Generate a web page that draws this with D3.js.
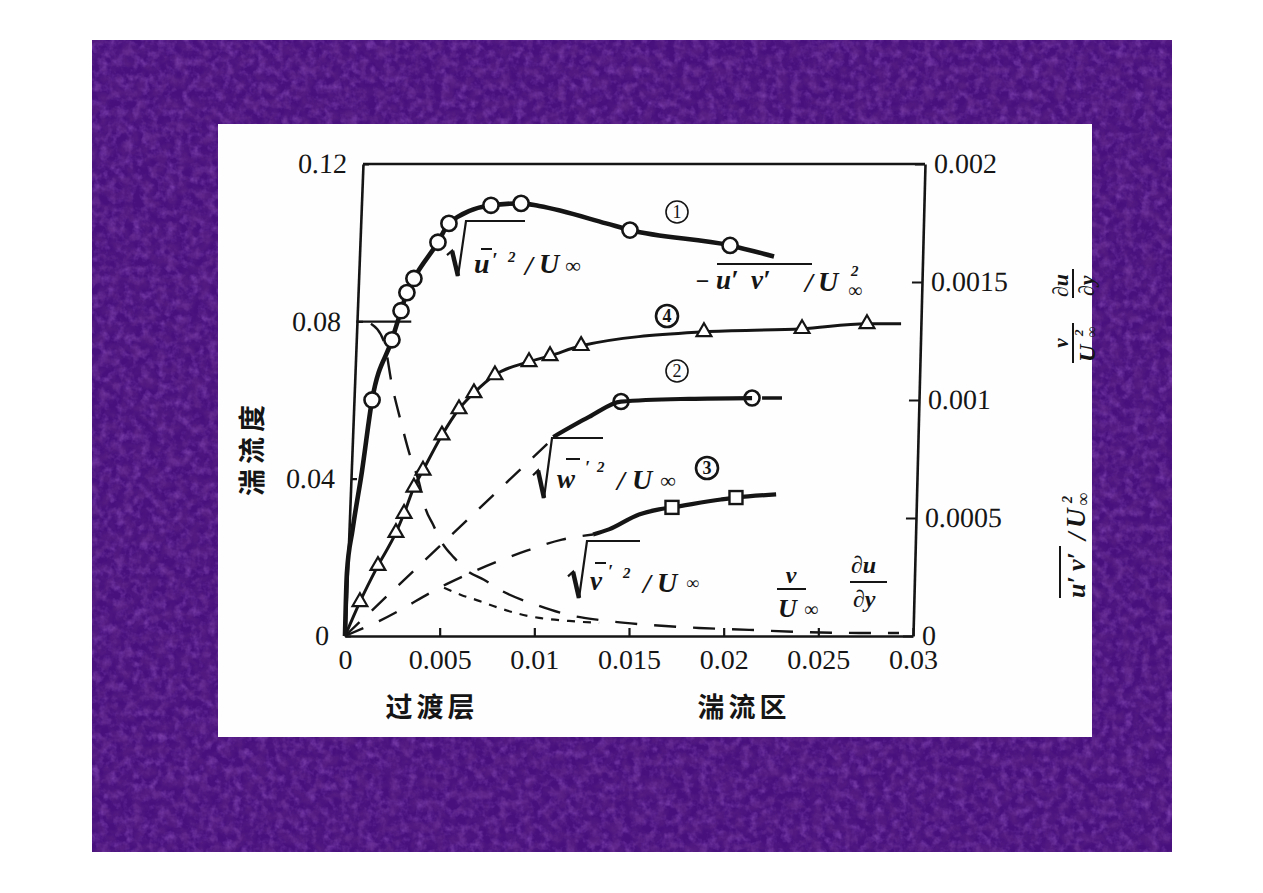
<!DOCTYPE html>
<html>
<head>
<meta charset="utf-8">
<script src="https://cdn.jsdelivr.net/npm/d3@7"></script>
<style>
  html, body { margin: 0; padding: 0; background: #fff; }
  svg { display: block; }
  .tick text { font-family: 'Liberation Serif', serif; font-size: 28px; fill: #151515; }
  .frm { font-family: 'Liberation Serif', serif; font-weight: bold; font-style: italic; fill: #151515; }
  .cjk { font-family: 'Noto Sans CJK SC', sans-serif; font-weight: bold; fill: #151515; }
</style>
</head>
<body>
<svg id="chart" width="1263" height="893"></svg>
<script>
// axis ticks
let xTicks = [0, 0.005, 0.01, 0.015, 0.02, 0.025, 0.03];
let yLeftTicks = [0, 0.04, 0.08, 0.12];
let yRightTicks = [0, 0.0005, 0.001, 0.0015, 0.002];

// ① sqrt(u'^2)/U  (left axis)
let uLineX = [0, 0.0001, 0.0004, 0.0009, 0.00143, 0.00248, 0.00296, 0.00327, 0.00364, 0.00491, 0.00549, 0.00771, 0.0093, 0.01025, 0.01379, 0.01505, 0.02034, 0.02266];
let uLineY = [0, 0.016, 0.027, 0.042, 0.060, 0.0753, 0.0827, 0.0873, 0.0909, 0.1001, 0.1049, 0.1095, 0.1100, 0.1093, 0.1049, 0.1032, 0.0993, 0.0965];
let uPtsX = [0.00143, 0.00248, 0.00296, 0.00327, 0.00364, 0.00491, 0.00549, 0.00771, 0.0093, 0.01505, 0.02034];
let uPtsY = [0.060, 0.0753, 0.0827, 0.0873, 0.0909, 0.1001, 0.1049, 0.1095, 0.1100, 0.1032, 0.0993];

// ② sqrt(w'^2)/U  (left axis)
let wDashX = [0, 0.0110];
let wDashY = [0, 0.0503];
let wLineX = [0.0110, 0.01289, 0.01458, 0.01817, 0.0215];
let wLineY = [0.0506, 0.0557, 0.0596, 0.0603, 0.0605];
let wTailX = [0.0215, 0.02308];
let wTailY = [0.0605, 0.0605];
let wPtsX = [0.01458, 0.0215];
let wPtsY = [0.0596, 0.0605];

// ③ sqrt(v'^2)/U  (left axis)
let vDashX = [0, 0.0018, 0.0055, 0.0096, 0.01146, 0.0131];
let vDashY = [0, 0.0038, 0.0135, 0.0217, 0.0245, 0.0258];
let vLineX = [0.0131, 0.01394, 0.01553, 0.01659, 0.01727, 0.01986, 0.02065, 0.02277];
let vLineY = [0.0258, 0.0271, 0.0309, 0.0322, 0.0327, 0.0347, 0.0352, 0.0360];
let vPtsX = [0.01727, 0.02065];
let vPtsY = [0.0327, 0.0352];

// ④ -u'v'/U^2  (right axis)
let stressX = [0, 0.00079, 0.00174, 0.00269, 0.00312, 0.00364, 0.00412, 0.00512, 0.00602, 0.00681, 0.00792, 0.00972, 0.01083, 0.01247, 0.01896, 0.02414, 0.02757, 0.02937];
let stressY = [0, 0.000145, 0.000298, 0.000438, 0.000519, 0.000630, 0.000702, 0.000851, 0.000962, 0.001030, 0.001106, 0.001162, 0.001187, 0.001230, 0.001289, 0.001302, 0.001323, 0.001323];
let stressPtsX = stressX.slice(1, -1);
let stressPtsY = stressY.slice(1, -1);

// (v/U^2) du/dy  (right axis)
let levelX = [0.0006, 0.0035];
let levelY = [0.001332, 0.001332];
let viscX = [0.00137, 0.00206, 0.00248, 0.00296, 0.00338, 0.00391, 0.00423, 0.00465, 0.00512, 0.00576, 0.00644, 0.00734, 0.00829, 0.01009, 0.01183, 0.01342, 0.01606, 0.0187, 0.02134, 0.02398, 0.02715, 0.02926];
let viscY = [0.001323, 0.001247, 0.001064, 0.000906, 0.000779, 0.000651, 0.000545, 0.000472, 0.000396, 0.000332, 0.000277, 0.000238, 0.000191, 0.000132, 0.000089, 0.000068, 0.000047, 0.000034, 0.000026, 0.000017, 0.000013, 0.000013];
let viscFineX = [0.00523, 0.00613, 0.00708, 0.00813, 0.00919, 0.01025, 0.01183, 0.01342];
let viscFineY = [0.000204, 0.000174, 0.000149, 0.000119, 0.0000936, 0.0000766, 0.0000638, 0.0000553];

let svg = d3.select('#chart');
let ink = '#151515';
let pts = (xs, ys) => xs.map((v, i) => [v, ys[i]]);

// background: purple textured slide with white paper
let defs = svg.append('defs');
let mkNoise = (id, seed, freq, r, g, b, a, off) => {
  let f = defs.append('filter').attr('id', id)
    .attr('x', 0).attr('y', 0).attr('width', '100%').attr('height', '100%');
  f.append('feTurbulence').attr('type', 'fractalNoise')
    .attr('baseFrequency', freq).attr('numOctaves', 3).attr('seed', seed);
  f.append('feColorMatrix').attr('type', 'matrix')
    .attr('values', `0 0 0 0 ${r}  0 0 0 0 ${g}  0 0 0 0 ${b}  ${a} 0 0 0 ${off}`);
};
mkNoise('light', 3, 0.12, 0.40, 0.14, 0.66, 1.0, -0.42);
mkNoise('dark', 11, 0.09, 0.12, 0.02, 0.24, 1.2, -0.42);

svg.append('rect').attr('width', 1263).attr('height', 893).attr('fill', '#fff');
let bgX = 92, bgY = 40, bgW = 1080, bgH = 812;
['#47107d', 'url(#light)', 'url(#dark)'].forEach((f, i) => {
  let r = svg.append('rect').attr('x', bgX).attr('y', bgY).attr('width', bgW).attr('height', bgH);
  if (i === 0) r.attr('fill', f); else r.attr('filter', f);
});
svg.append('rect').attr('x', 218).attr('y', 124).attr('width', 874).attr('height', 613).attr('fill', '#fefefe');

// scales
let x = d3.scaleLinear().domain([0, 0.03]).range([345, 913]);
let yL = d3.scaleLinear().domain([0, 0.12]).range([636, 164]);
let yR = d3.scaleLinear().domain([0, 0.002]).range([636, 164]);

// the scanned frame leans a little: skew the side axes
let leftSkew = -18 / 472;
let rightSkew = -12 / 472;
let leftX0 = 345 - leftSkew * 636;
let rightX0 = 913 - rightSkew * 636;
let deg = t => Math.atan(t) * 180 / Math.PI;
let fmt = d => d === 0 ? '0' : String(d);

let axisStyle = g => {
  g.selectAll('.domain').attr('stroke', ink).attr('stroke-width', 2.6);
  g.selectAll('.tick line').attr('stroke', ink).attr('stroke-width', 2.2);
};

svg.append('g')
  .attr('transform', `translate(${leftX0},0) skewX(${deg(leftSkew)})`)
  .call(d3.axisLeft(yL).tickValues(yLeftTicks).tickFormat(fmt)
    .tickSizeInner(-6).tickSizeOuter(0).tickPadding(16))
  .call(axisStyle);

svg.append('g')
  .attr('transform', `translate(${rightX0},0) skewX(${deg(rightSkew)})`)
  .call(d3.axisRight(yR).tickValues(yRightTicks).tickFormat(fmt)
    .tickSizeInner(-10).tickSizeOuter(0).tickPadding(9))
  .call(axisStyle);

svg.append('g')
  .attr('transform', `translate(0,${yL(0)})`)
  .call(d3.axisBottom(x).tickValues(xTicks).tickFormat(fmt)
    .tickSizeInner(-8).tickSizeOuter(0).tickPadding(13))
  .call(axisStyle);

// top edge of the frame
let topY = yL(0.12);
svg.append('line')
  .attr('x1', leftX0 + leftSkew * topY).attr('x2', rightX0 + rightSkew * topY)
  .attr('y1', topY).attr('y2', topY)
  .attr('stroke', ink).attr('stroke-width', 2.6);

// curves
let lineL = d3.line().x(d => x(d[0])).y(d => yL(d[1])).curve(d3.curveMonotoneX);
let lineR = d3.line().x(d => x(d[0])).y(d => yR(d[1])).curve(d3.curveMonotoneX);

let draw = (gen, data, width, dash) => svg.append('path')
  .attr('d', gen(data)).attr('fill', 'none')
  .attr('stroke', ink).attr('stroke-width', width)
  .attr('stroke-dasharray', dash || null)
  .attr('stroke-linecap', 'butt').attr('stroke-linejoin', 'round');

draw(lineL, pts(wDashX, wDashY), 2.4, '20,17');
draw(lineL, pts(vDashX, vDashY), 2.4, '20,17');
draw(lineR, pts(levelX, levelY), 2.4);
draw(lineR, pts(viscX, viscY), 2.4, '22,17');
draw(lineR, pts(viscFineX, viscFineY), 2.2, '8,8');

draw(lineR, pts(stressX, stressY), 3);
draw(lineL, pts(vLineX, vLineY), 4.2);

svg.append('g').selectAll('path')
  .data(pts(stressPtsX, stressPtsY)).enter().append('path')
  .attr('d', d3.symbol(d3.symbolTriangle, 95))
  .attr('transform', d => `translate(${x(d[0])},${yR(d[1])})`)
  .attr('fill', '#fff').attr('stroke', ink).attr('stroke-width', 2.2);

svg.append('g').selectAll('rect')
  .data(pts(vPtsX, vPtsY)).enter().append('rect')
  .attr('x', d => x(d[0]) - 6.5).attr('y', d => yL(d[1]) - 6.5)
  .attr('width', 13).attr('height', 13)
  .attr('fill', '#fff').attr('stroke', ink).attr('stroke-width', 2.4);

svg.append('g').selectAll('circle')
  .data(pts(wPtsX, wPtsY)).enter().append('circle')
  .attr('cx', d => x(d[0])).attr('cy', d => yL(d[1])).attr('r', 7.5)
  .attr('fill', '#fff').attr('stroke', ink).attr('stroke-width', 2.6);
draw(lineL, pts(wLineX, wLineY), 4.2);
draw(lineL, pts(wTailX, wTailY), 3.5, '0,10,20,100');

draw(lineL, pts(uLineX, uLineY), 4.6);
svg.append('g').selectAll('circle')
  .data(pts(uPtsX, uPtsY)).enter().append('circle')
  .attr('cx', d => x(d[0])).attr('cy', d => yL(d[1])).attr('r', 7.6)
  .attr('fill', '#fff').attr('stroke', ink).attr('stroke-width', 2.6);

// formula labels
let txt = (px, py, s, size, opt) => {
  opt = opt || {};
  return svg.append('text').attr('class', 'frm')
    .attr('x', px).attr('y', py).attr('font-size', size)
    .attr('text-anchor', opt.anchor || 'start')
    .attr('font-style', opt.upright ? 'normal' : null)
    .text(s);
};
let bar = (x1, x2, yy, w) => svg.append('line')
  .attr('x1', x1).attr('x2', x2).attr('y1', yy).attr('y2', yy)
  .attr('stroke', ink).attr('stroke-width', w || 2);
let rad = (x0, yTop, yBot, x1) => {
  let h = yBot - yTop;
  let p = d3.path();
  p.moveTo(x0, yBot - h * 0.38);
  p.lineTo(x0 + 5, yBot - h * 0.46);
  p.lineTo(x0 + 11, yBot);
  p.lineTo(x0 + 19, yTop);
  p.lineTo(x1, yTop);
  svg.append('path').attr('d', p.toString()).attr('fill', 'none')
    .attr('stroke', ink).attr('stroke-width', 2.2).attr('stroke-linejoin', 'miter');
  svg.append('line').attr('x1', x0 + 5).attr('y1', yBot - h * 0.46)
    .attr('x2', x0 + 11).attr('y2', yBot)
    .attr('stroke', ink).attr('stroke-width', 4.5);
};
let circNum = (cx, cy, n, heavy) => {
  svg.append('circle').attr('cx', cx).attr('cy', cy).attr('r', 11)
    .attr('fill', 'none').attr('stroke', ink).attr('stroke-width', heavy ? 2.6 : 1.6);
  svg.append('text').attr('x', cx).attr('y', cy + 6).attr('text-anchor', 'middle')
    .attr('font-family', 'Liberation Serif, serif').attr('font-size', 18)
    .attr('font-weight', heavy ? 'bold' : 'normal').attr('fill', ink).text(n);
};

// sqrt(u'^2)/U
rad(447, 221, 276, 525);
txt(474, 273, 'u', 28);
bar(481, 492, 249);
txt(492, 267, '′', 20);
txt(508, 262, '2', 15, { upright: true });
txt(525, 275, '/', 28);
txt(539, 273, 'U', 28);
txt(565, 273, '∞', 22, { upright: true });

// -u'v'/U^2
txt(695, 289, '−', 24, { upright: true });
bar(717, 812, 264);
txt(716, 289, 'u′', 27);
txt(751, 289, 'v′', 27);
txt(805, 292, '/', 28);
txt(818, 291, 'U', 28);
txt(851, 276, '2', 15, { upright: true });
txt(848, 297, '∞', 20, { upright: true });

circNum(677, 212, '1', false);
circNum(667, 316, '4', true);
circNum(677, 371, '2', false);
circNum(707, 468, '3', true);

// sqrt(w'^2)/U
rad(533, 438, 498, 603);
txt(557, 488, 'w', 27);
bar(566, 580, 459);
txt(585, 474, '′', 18);
txt(597, 472, '2', 15, { upright: true });
txt(617, 490, '/', 28);
txt(632, 489, 'U', 28);
txt(660, 488, '∞', 22, { upright: true });

// sqrt(v'^2)/U
rad(568, 541, 598, 640);
txt(590, 590, 'v', 27);
bar(595, 606, 563);
txt(608, 578, '′', 18);
txt(623, 578, '2', 15, { upright: true });
txt(643, 593, '/', 28);
txt(657, 592, 'U', 28);
txt(686, 589, '∞', 18, { upright: true });

// (v/U) du/dy
txt(791, 583, 'ν', 24, { anchor: 'middle' });
bar(777, 806, 589);
txt(778, 617, 'U', 26);
txt(804, 616, '∞', 20, { upright: true });
txt(851, 573, '∂u', 24);
bar(850, 887, 582);
txt(853, 607, '∂y', 24);

// right-hand axis titles, turned on their side
let side1 = svg.append('g').attr('transform', 'translate(1073,365) rotate(-90)');
side1.append('text').attr('class', 'frm').attr('x', 22).attr('y', -5).attr('font-size', 21)
  .attr('text-anchor', 'middle').text('ν');
side1.append('line').attr('x1', 2).attr('x2', 42).attr('y1', 0).attr('y2', 0)
  .attr('stroke', ink).attr('stroke-width', 2);
side1.append('text').attr('class', 'frm').attr('x', 3).attr('y', 22).attr('font-size', 24).text('U');
side1.append('text').attr('class', 'frm').attr('x', 29).attr('y', 10).attr('font-size', 13)
  .attr('font-style', 'normal').text('2');
side1.append('text').attr('class', 'frm').attr('x', 27).attr('y', 24).attr('font-size', 16)
  .attr('font-style', 'normal').text('∞');
side1.append('text').attr('class', 'frm').attr('x', 68).attr('y', -5).attr('font-size', 22).text('∂u');
side1.append('line').attr('x1', 67).attr('x2', 96).attr('y1', 0).attr('y2', 0)
  .attr('stroke', ink).attr('stroke-width', 2);
side1.append('text').attr('class', 'frm').attr('x', 69).attr('y', 21).attr('font-size', 22).text('∂y');

let side2 = svg.append('g').attr('transform', 'translate(1085,598) rotate(-90)');
side2.append('line').attr('x1', 0).attr('x2', 52).attr('y1', -25).attr('y2', -25)
  .attr('stroke', ink).attr('stroke-width', 2);
side2.append('text').attr('class', 'frm').attr('x', 0).attr('y', 0).attr('font-size', 26).text('u′');
side2.append('text').attr('class', 'frm').attr('x', 27).attr('y', 0).attr('font-size', 26).text('v′');
side2.append('text').attr('class', 'frm').attr('x', 58).attr('y', 1).attr('font-size', 27).text('/');
side2.append('text').attr('class', 'frm').attr('x', 70).attr('y', 0).attr('font-size', 27).text('U');
side2.append('text').attr('class', 'frm').attr('x', 95).attr('y', -13).attr('font-size', 14)
  .attr('font-style', 'normal').text('2');
side2.append('text').attr('class', 'frm').attr('x', 92).attr('y', 4).attr('font-size', 18)
  .attr('font-style', 'normal').text('∞');

// Chinese titles
svg.append('text').attr('class', 'cjk')
  .attr('transform', 'translate(262,448) rotate(-90)')
  .attr('text-anchor', 'middle').attr('font-size', 27).attr('letter-spacing', 5)
  .text('湍流度');
svg.append('text').attr('class', 'cjk').attr('x', 432).attr('y', 717)
  .attr('text-anchor', 'middle').attr('font-size', 27).attr('letter-spacing', 4)
  .text('过渡层');
svg.append('text').attr('class', 'cjk').attr('x', 744).attr('y', 717)
  .attr('text-anchor', 'middle').attr('font-size', 27).attr('letter-spacing', 4)
  .text('湍流区');
</script>
</body>
</html>
